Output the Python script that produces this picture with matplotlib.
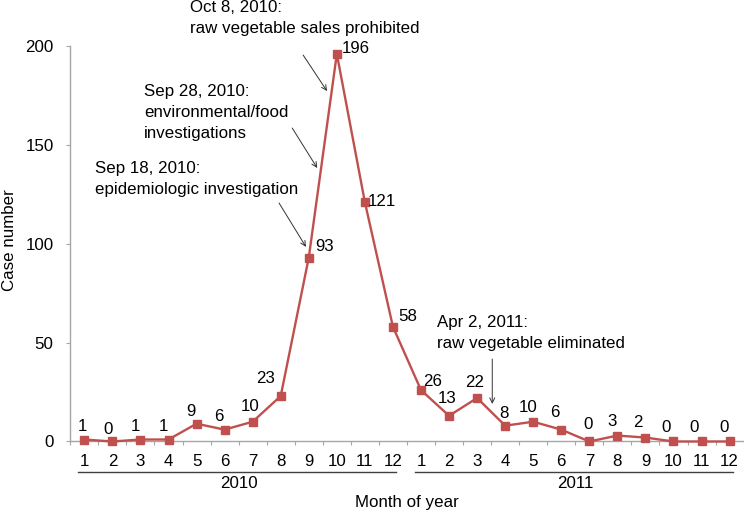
import matplotlib
matplotlib.use('Agg')
import matplotlib.pyplot as plt
from matplotlib.transforms import blended_transform_factory

plt.rcParams['font.family'] = ['Liberation Sans', 'DejaVu Sans']

# monthly case counts, Jan 2010 - Dec 2011
months = list(range(1, 13)) * 2
years = ['2010', '2011']
cases = [1, 0, 1, 1, 9, 6, 10, 23, 93, 196, 121, 58,
         26, 13, 22, 8, 10, 6, 0, 3, 2, 0, 0, 0]

# label offsets in pixels (dx, dy) relative to each point
label_offsets = [(-2, 13), (-4, 12), (-5, 13), (-5, 13), (-6, 12), (-6, 13), (-3, 15),
                 (-15, 18), (16, 11), (19, 5), (17, 1), (15, 10),
                 (12, 9), (-2, 17), (-2, 15), (-1, 12), (-5, 14), (-6, 17),
                 (-1, 17), (-5, 14), (-8, 15), (-7, 14), (-7, 14), (-6, 14)]

notes = ['Oct 8, 2010:\nraw vegetable sales prohibited',
         'Sep 28, 2010:\nenvironmental/food\ninvestigations',
         'Sep 18, 2010:\nepidemiologic investigation',
         'Apr 2, 2011:\nraw vegetable eliminated']
note_text_xy = [(4.77, 214.4), (3.13, 166.6), (1.38, 132.7), (13.57, 54.9)]
note_arrow_from = [(8.80, 195.4), (8.41, 158.5), (7.94, 120.6), (15.54, 41.7)]
note_arrow_to = [(9.65, 177.2), (9.30, 138.3), (8.90, 98.4), (15.54, 19.0)]

red = '#C0504D'
axis_grey = '#A6A6A6'
fs = 12.2

fig = plt.figure(figsize=(7.44, 5.12), dpi=100)
ax = fig.add_axes([0.0945, 0.1377, 0.905, 0.7725])

x = list(range(1, len(cases) + 1))
ax.plot(x, cases, color=red, lw=1.7, marker='s', markersize=5.4, clip_on=False, zorder=3)

for xi, c, (dx, dy) in zip(x, cases, label_offsets):
    ax.annotate(str(c), (xi, c), textcoords='offset pixels', xytext=(dx, dy),
                ha='center', va='center', fontsize=fs)

for txt, txy, a0, a1 in zip(notes, note_text_xy, note_arrow_from, note_arrow_to):
    ax.text(txy[0], txy[1], txt, ha='left', va='center', fontsize=fs,
            linespacing=1.5, clip_on=False)
    ax.annotate('', xy=a1, xytext=a0,
                arrowprops=dict(arrowstyle='->', color='#333333', lw=0.7,
                                shrinkA=0, shrinkB=0, mutation_scale=9))

ax.set_xlim(0.5, len(cases) + 0.5)
ax.set_ylim(0, 200)
ax.set_yticks([0, 50, 100, 150, 200])

ax.set_xticks([i + 0.5 for i in range(len(cases) + 1)])
ax.set_xticklabels([])
ax.set_xticks(x, minor=True)
ax.set_xticklabels([str(m) for m in months], minor=True)
ax.tick_params(axis='x', which='major', length=3, color=axis_grey, direction='out')
ax.tick_params(axis='x', which='minor', length=0, pad=9, labelsize=fs)
ax.tick_params(axis='y', length=3, color=axis_grey, pad=9, labelsize=fs)

for s in ['top', 'right']:
    ax.spines[s].set_visible(False)
for s in ['left', 'bottom']:
    ax.spines[s].set_color(axis_grey)
    ax.spines[s].set_linewidth(1)

# year brackets under the month labels
trans = blended_transform_factory(ax.transData, ax.transAxes)
for k, yr in enumerate(years):
    start = 12 * k + 1
    end = 12 * k + 12
    ax.plot([start - 0.23, end + 0.12], [-0.078, -0.078], color='#404040', lw=1,
            transform=trans, clip_on=False)
    ax.text((start + end) / 2, -0.106, yr, transform=trans, ha='center', va='center',
            fontsize=fs)

ax.text(0.5, -0.153, 'Month of year', transform=ax.transAxes, ha='center', va='center',
        fontsize=fs)
ax.text(-0.09, 0.509, 'Case number', transform=ax.transAxes, ha='center', va='center',
        rotation=90, fontsize=fs)

fig.savefig('out.png', dpi=100)
